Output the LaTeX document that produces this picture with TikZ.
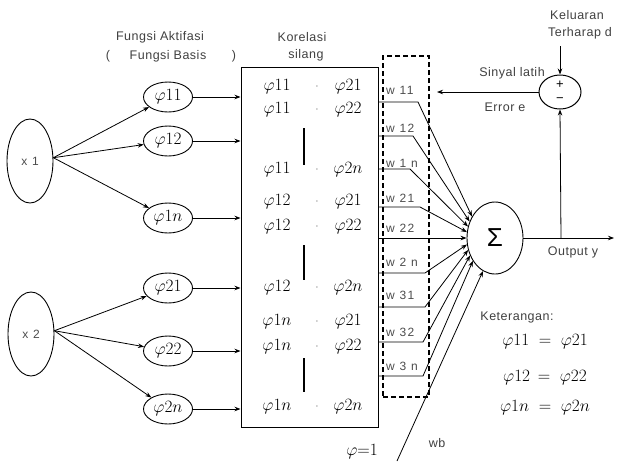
\documentclass[tikz,border=0pt]{standalone}
\usepackage{fontspec}
\setsansfont{Liberation Sans}
\newfontfamily\spaced[LetterSpace=4]{Liberation Sans}
\newfontfamily\wspaced[LetterSpace=12]{Liberation Sans}
\usetikzlibrary{arrows.meta,shapes.geometric}
\tikzset{
  lab/.style={font=\spaced\fontsize{12.5}{14}\selectfont, text=black!75, inner sep=0pt},
  wlab/.style={font=\wspaced\fontsize{12}{13}\selectfont, text=black!70, inner sep=0pt, anchor=west},
  phi/.style={font=\fontsize{18}{18}\selectfont, inner sep=0pt},
  basis/.style={draw, ellipse, minimum width=49pt, minimum height=30pt, inner sep=0pt, line width=0.9pt, font=\fontsize{17}{17}\selectfont},
  inp/.style={draw, ellipse, minimum width=46pt, minimum height=84pt, inner sep=0pt, line width=0.9pt, font=\wspaced\fontsize{12}{13}\selectfont, text=black!70},
  arr/.style={-{Stealth[length=6pt,width=4.5pt]}, line width=0.8pt},
  bar/.style={line width=1.6pt},
}
\begin{document}
\begin{tikzpicture}[x=1pt,y=-1pt]
\useasboundingbox (0,0) rectangle (618,461);

% titles
\node[lab] (t1) at (160,37) {Fungsi Aktifasi};
\node[lab] (t2) at (168,56) {Fungsi Basis};
\node[lab] (t2a) at (108,56) {(};
\node[lab] (t2b) at (234,56) {)};
\node[lab] (t3) at (302,37) {Korelasi};
\node[lab] (t4) at (306,55) {silang};

% inputs
\node[inp] (x1) at (30,161) {x 1};
\node[inp] (x2) at (31,334) {x 2};

% basis functions
\node[basis] (b11) at (168,97) {$\varphi11$};
\node[basis] (b12) at (168,141) {$\varphi12$};
\node[basis] (b1n) at (168,218) {$\varphi1n$};
\node[basis] (b21) at (168,288) {$\varphi21$};
\node[basis] (b22) at (168,351) {$\varphi22$};
\node[basis] (b2n) at (168,409) {$\varphi2n$};

\foreach \b in {b11,b12,b1n} \draw[arr] (x1.8) -- (\b);
\foreach \b in {b21,b22,b2n} \draw[arr] (x2.8) -- (\b);

% correlation box
\node[draw, line width=1pt, minimum width=137pt, minimum height=360pt, inner sep=0pt] (box) at (309.5,247) {};
\foreach \b in {b11,b12,b1n,b21,b22,b2n} \draw[arr] (\b.east) -- (box.west |- \b.east);

\foreach \i/\y/\a/\c in {1/87/11/21, 2/110/11/22, 3/170/11/2n, 4/202/12/21, 5/227/12/22, 6/288/12/2n, 7/322/1n/21, 8/347/1n/22, 9/407/1n/2n} {
  \node[phi] (l\i) at (277,\y) {$\varphi\a$};
  \node[inner sep=0pt, font=\fontsize{12}{12}\selectfont, text=black!55] (d\i) at (317,\y) {$\cdot$};
  \node[phi] (r\i) at (348,\y) {$\varphi\c$};
}
\draw[bar] (304,128) -- (304,165);
\draw[bar] (304,245) -- (304,280);
\draw[bar] (304,358) -- (304,392);

% weights box
\node[draw, line width=1.4pt, dash pattern=on 5pt off 3pt, minimum width=46pt, minimum height=341pt, inner sep=0pt] (wbox) at (406,226.5) {};

% summation
\node[draw, ellipse, minimum width=56pt, minimum height=72pt, inner sep=0pt, line width=0.9pt, font=\sffamily\fontsize{26}{26}\selectfont] (sig) at (495,238) {Σ};

\foreach \k/\t/\ly/\y/\bx/\ang in {1/w 11/90/102/418/137, 2/w 12/128/136/413/147, 3/w 1 n/163/169/410/157, 4/w 21/198/207/420/168, 6/w 2 n/262/273/425/193, 7/w 31/295/307/425/204, 8/w 32/332/342/423/215, 9/w 3 n/366/376/423/226} {
  \node[wlab] (w\k) at (386,\ly) {\t};
  \coordinate (bend\k) at (\bx,\y);
  \draw[arr] (box.east |- bend\k) -- (bend\k) -- (sig.\ang);
}
\node[wlab] (w5) at (386,228) {w 22};
\draw[arr] (box.east |- sig.west) -- (sig.west);

% bias
\coordinate (wbs) at (397,461);
\draw[arr] (wbs) -- (sig.250);
\node[phi] (phib) at (362,452) {$\varphi{=}1$};
\node[lab] (wb) at (437,443) {wb};

% output
\coordinate (outend) at (614,238);
\draw[arr] (sig.east) -- (outend);
\node[lab] (outy) at (573,252) {Output y};
\coordinate (tap) at (561,238);

% error
\node[draw, ellipse, minimum width=42pt, minimum height=34pt, inner sep=0pt, line width=1pt] (err) at (560,92) {};
\node[inner sep=0pt, font=\sffamily\fontsize{13}{13}\selectfont] (plus) at (560,85) {+};
\node[inner sep=0pt, font=\sffamily\fontsize{13}{13}\selectfont] (minus) at (560,100) {−};
\draw[arr] (tap) -- (err.south);
\node[lab] (k1) at (577,15) {Keluaran};
\node[lab] (k2) at (580,33) {Terharap d};
\coordinate (dtop) at (560,46);
\draw[arr] (dtop) -- (err.north);
\coordinate (ewt) at (437,92);
\draw[arr] (err.west) -- (ewt);
\node[lab] (sl) at (512,73) {Sinyal latih};
\node[lab] (ee) at (505,107) {Error e};

% legend
\node[lab] (ket) at (517,317) {Keterangan:};
\node[phi] (e1) at (545,342) {$\varphi11\;=\;\varphi21$};
\node[phi] (e2) at (545,378) {$\varphi12\,=\;\varphi22$};
\node[phi] (e3) at (545,408) {$\varphi1n\;=\;\varphi2n$};
\end{tikzpicture}
\end{document}
